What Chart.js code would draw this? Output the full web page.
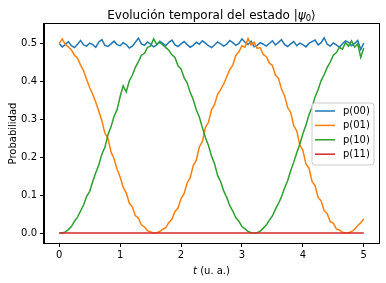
<!DOCTYPE html>
<html>
<head>
<meta charset="utf-8">
<script src="https://cdn.jsdelivr.net/npm/chart.js@4/dist/chart.umd.min.js"></script>
<style>
html,body{margin:0;padding:0;background:#fff;}
#wrap{width:386px;height:283px;position:relative;}
</style>
</head>
<body>
<div id="wrap"><canvas id="c" width="386" height="283"></canvas></div>
<script>
// ---- data ----
const T_START = 0;
const T_END = 5;
const SERIES_LABELS = ["p(00)", "p(01)", "p(10)", "p(11)"];
const X_TICKS = [0, 1, 2, 3, 4, 5];
const Y_TICKS = [0.0, 0.1, 0.2, 0.3, 0.4, 0.5];

const p00 = [
  0.500, 0.491, 0.497, 0.505, 0.494, 0.489, 0.498, 0.508, 0.496, 0.493,
  0.501, 0.497, 0.490, 0.504, 0.510, 0.495, 0.492, 0.499, 0.506, 0.497,
  0.494, 0.502, 0.497, 0.488, 0.493, 0.503, 0.514, 0.499, 0.495, 0.504,
  0.498, 0.491, 0.496, 0.506, 0.500, 0.494, 0.503, 0.509, 0.496, 0.492,
  0.499, 0.505, 0.497, 0.490, 0.495, 0.503, 0.498, 0.507, 0.501, 0.494,
  0.489, 0.496, 0.504, 0.499, 0.493, 0.498, 0.508, 0.502, 0.495, 0.500,
  0.512, 0.503, 0.497, 0.506, 0.491, 0.495, 0.502, 0.498, 0.493, 0.500,
  0.507, 0.496, 0.503, 0.510, 0.497, 0.492, 0.499, 0.505, 0.494, 0.501,
  0.497, 0.491, 0.500, 0.505, 0.509, 0.496, 0.502, 0.515, 0.498, 0.493,
  0.501, 0.496, 0.490, 0.499, 0.507, 0.503, 0.494, 0.500, 0.508, 0.484,
  0.501
];
const p01 = [
  0.500, 0.512, 0.497, 0.491, 0.483, 0.469, 0.461, 0.443, 0.428, 0.405,
  0.384, 0.366, 0.345, 0.321, 0.296, 0.263, 0.250, 0.214, 0.196, 0.168,
  0.148, 0.121, 0.106, 0.079, 0.069, 0.046, 0.039, 0.021, 0.016, 0.006,
  0.003, 0.000, 0.001, 0.004, 0.010, 0.014, 0.028, 0.036, 0.057, 0.066,
  0.091, 0.104, 0.132, 0.146, 0.178, 0.192, 0.227, 0.241, 0.278, 0.292,
  0.325, 0.339, 0.366, 0.378, 0.393, 0.412, 0.431, 0.443, 0.469, 0.478,
  0.494, 0.490, 0.513, 0.496, 0.503, 0.487, 0.489, 0.471, 0.465, 0.448,
  0.442, 0.416, 0.408, 0.379, 0.362, 0.331, 0.318, 0.283, 0.269, 0.232,
  0.218, 0.182, 0.171, 0.136, 0.125, 0.094, 0.085, 0.059, 0.051, 0.030,
  0.026, 0.011, 0.008, 0.002, 0.000, 0.001, 0.004, 0.010, 0.019, 0.027,
  0.037
];
const p10 = [
  0.000, 0.000, 0.003, 0.009, 0.017, 0.031, 0.042, 0.058, 0.074, 0.097,
  0.110, 0.136, 0.159, 0.180, 0.208, 0.226, 0.259, 0.280, 0.308, 0.325,
  0.360, 0.388, 0.372, 0.401, 0.416, 0.437, 0.452, 0.469, 0.474, 0.490,
  0.493, 0.512, 0.498, 0.503, 0.496, 0.489, 0.482, 0.470, 0.463, 0.441,
  0.433, 0.410, 0.396, 0.371, 0.352, 0.325, 0.306, 0.278, 0.252, 0.231,
  0.203, 0.183, 0.152, 0.136, 0.111, 0.094, 0.072, 0.058, 0.040, 0.031,
  0.017, 0.011, 0.004, 0.001, 0.000, 0.001, 0.005, 0.013, 0.021, 0.034,
  0.045, 0.063, 0.078, 0.096, 0.119, 0.138, 0.164, 0.187, 0.212, 0.234,
  0.262, 0.284, 0.312, 0.331, 0.359, 0.378, 0.402, 0.418, 0.437, 0.451,
  0.469, 0.476, 0.490, 0.485, 0.502, 0.493, 0.507, 0.490, 0.499, 0.463,
  0.488
];
const p11 = [
  0, 0, 0, 0, 0, 0, 0, 0, 0, 0,
  0, 0, 0, 0, 0, 0, 0, 0, 0, 0,
  0, 0, 0, 0, 0, 0, 0, 0, 0, 0,
  0, 0, 0, 0, 0, 0, 0, 0, 0, 0,
  0, 0, 0, 0, 0, 0, 0, 0, 0, 0,
  0, 0, 0, 0, 0, 0, 0, 0, 0, 0,
  0, 0, 0, 0, 0, 0, 0, 0, 0, 0,
  0, 0, 0, 0, 0, 0, 0, 0, 0, 0,
  0, 0, 0, 0, 0, 0, 0, 0, 0, 0,
  0, 0, 0, 0, 0, 0, 0, 0, 0, 0,
  0
];
// ---- end data ----

const COLORS = ["#1f77b4", "#ff7f0e", "#2ca02c", "#d62728"];
const SERIES = [p00, p01, p10, p11];
const FONT = "'DejaVu Sans', sans-serif";

function toPoints(arr) {
  const n = arr.length;
  return arr.map((v, i) => ({ x: T_START + (T_END - T_START) * i / (n - 1), y: v }));
}

const datasets = SERIES.map((arr, k) => ({
  label: SERIES_LABELS[k],
  data: toPoints(arr),
  borderColor: COLORS[k],
  backgroundColor: COLORS[k],
  borderWidth: 1.5,
  pointRadius: 0,
  tension: 0,
  fill: false,
  order: SERIES.length - 1 - k
}));

const frameAndText = {
  id: 'frameAndText',
  afterDatasetsDraw(chart) {
    const { ctx, chartArea: a } = chart;
    ctx.save();
    ctx.strokeStyle = '#000';
    ctx.lineWidth = 1;
    ctx.strokeRect(Math.round(a.left) - 0.5, Math.round(a.top) - 0.5,
                   Math.round(a.right - a.left) + 1, Math.round(a.bottom - a.top) + 1);
    const lx = 312, ly = 103, lw = 62, lh = 62, r = 3;
    ctx.beginPath();
    ctx.moveTo(lx + r, ly);
    ctx.arcTo(lx + lw, ly, lx + lw, ly + lh, r);
    ctx.arcTo(lx + lw, ly + lh, lx, ly + lh, r);
    ctx.arcTo(lx, ly + lh, lx, ly, r);
    ctx.arcTo(lx, ly, lx + lw, ly, r);
    ctx.closePath();
    ctx.fillStyle = 'rgba(255,255,255,0.8)';
    ctx.fill();
    ctx.strokeStyle = '#cccccc';
    ctx.lineWidth = 1;
    ctx.stroke();
    ctx.font = '10px ' + FONT;
    ctx.textBaseline = 'middle';
    ctx.textAlign = 'left';
    chart.data.datasets.forEach((ds, i) => {
      const y = 111 + i * 14.4;
      ctx.strokeStyle = ds.borderColor;
      ctx.lineWidth = 1.5;
      ctx.beginPath();
      ctx.moveTo(315, y);
      ctx.lineTo(335, y);
      ctx.stroke();
      ctx.fillStyle = '#000';
      ctx.fillText(ds.label, 343, y + 0.5);
    });
    ctx.restore();
  },
  afterDraw(chart) {
    const { ctx, chartArea: a } = chart;
    ctx.save();
    ctx.fillStyle = '#000';
    ctx.textBaseline = 'alphabetic';
    const cx = (a.left + a.right) / 2;
    const parts = [
      { t: 'Evolución temporal del estado ', f: '12px ' + FONT, dy: 0 },
      { t: '|', f: '12px ' + FONT, dy: 0 },
      { t: 'ψ', f: 'italic 12px ' + FONT, dy: 0 },
      { t: '0', f: '8.5px ' + FONT, dy: 2 },
      { t: '⟩', f: '12px ' + FONT, dy: 0 }
    ];
    let total = 0;
    parts.forEach(p => { ctx.font = p.f; p.w = ctx.measureText(p.t).width; total += p.w; });
    let x = cx - total / 2;
    ctx.textAlign = 'left';
    parts.forEach(p => { ctx.font = p.f; ctx.fillText(p.t, x, 19 + p.dy); x += p.w; });
    const xp = [
      { t: 't', f: 'italic 10px ' + FONT },
      { t: ' (u. a.)', f: '10px ' + FONT }
    ];
    total = 0;
    xp.forEach(p => { ctx.font = p.f; p.w = ctx.measureText(p.t).width; total += p.w; });
    x = cx - total / 2;
    xp.forEach(p => { ctx.font = p.f; ctx.fillText(p.t, x, 274); x += p.w; });
    ctx.translate(13, (a.top + a.bottom) / 2);
    ctx.rotate(-Math.PI / 2);
    ctx.font = '10px ' + FONT;
    ctx.textAlign = 'center';
    ctx.textBaseline = 'middle';
    ctx.fillText('Probabilidad', 0, 0);
    ctx.restore();
  }
};

Chart.defaults.color = '#000';
Chart.defaults.font.family = FONT;
Chart.defaults.font.size = 10;

new Chart(document.getElementById('c'), {
  type: 'line',
  data: { datasets },
  options: {
    responsive: false,
    animation: false,
    events: [],
    layout: { padding: { left: 0, right: 7, top: 24, bottom: 0 } },
    plugins: { legend: { display: false }, title: { display: false }, tooltip: { enabled: false } },
    scales: {
      x: {
        type: 'linear',
        min: -0.25,
        max: 5.25,
        afterFit(s) { s.height = 40; },
        afterBuildTicks(s) { s.ticks = X_TICKS.map(v => ({ value: v })); },
        ticks: { padding: 2, maxRotation: 0, callback: v => String(v), color: '#000', font: { size: 10 } },
        grid: { display: true, drawOnChartArea: false, drawTicks: true, tickLength: 4, tickColor: '#000', tickWidth: 1 },
        border: { display: true, color: '#000', width: 1 }
      },
      y: {
        type: 'linear',
        min: -0.0263,
        max: 0.5513,
        afterFit(s) { s.width = 44; },
        afterBuildTicks(s) { s.ticks = Y_TICKS.map(v => ({ value: v })); },
        ticks: { padding: 3, callback: v => Number(v).toFixed(1), color: '#000', font: { size: 10 } },
        grid: { display: true, drawOnChartArea: false, drawTicks: true, tickLength: 4, tickColor: '#000', tickWidth: 1 },
        border: { display: true, color: '#000', width: 1 }
      }
    }
  },
  plugins: [frameAndText]
});
</script>
</body>
</html>
